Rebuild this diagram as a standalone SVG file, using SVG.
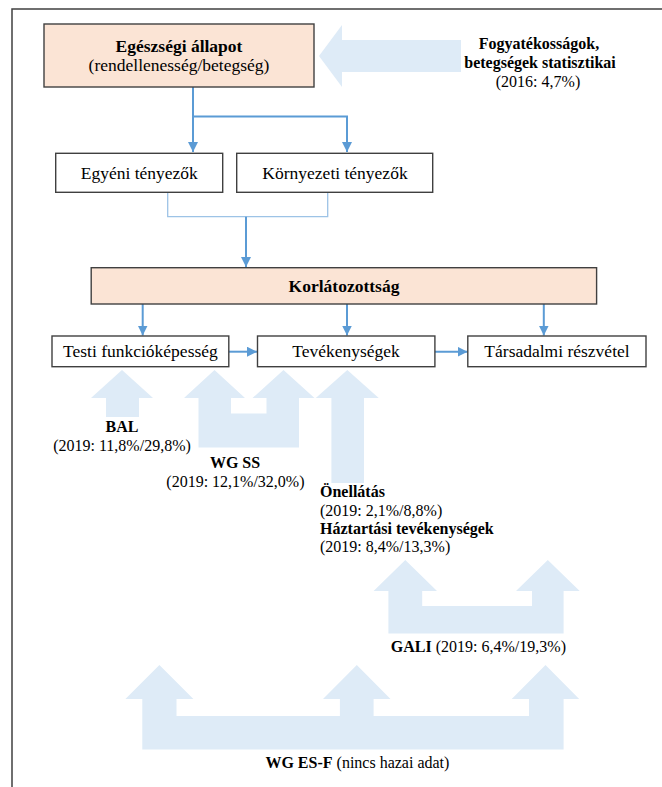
<svg xmlns="http://www.w3.org/2000/svg" width="662" height="787" viewBox="0 0 662 787">
<defs>
<style>
.frame{fill:none;stroke:#404040;stroke-width:1.5}
.box{fill:#ffffff;stroke:#404040;stroke-width:1.4}
.hl{fill:#FBE4D5;stroke:#404040;stroke-width:1.4}
.big{fill:#DEEBF7;stroke:none}
.t{font-family:"Liberation Serif","Times New Roman",serif;font-size:17.5px;fill:#000}
.a{font-family:"Liberation Serif","Times New Roman",serif;font-size:16px;fill:#000}
.b{font-weight:bold}
.c{text-anchor:middle}
.ln{fill:none;stroke:#5B9BD5;stroke-width:2}
.thin{fill:none;stroke:#9DC3E6;stroke-width:1.3}
</style>
<marker id="ah" markerUnits="userSpaceOnUse" markerWidth="10" markerHeight="10" refX="10" refY="5" orient="auto">
<path d="M0,0 L10,5 L0,10 z" fill="#5B9BD5"/>
</marker>
</defs>
<rect x="12" y="9" width="700" height="800" class="frame"/>

<g id="big-arrows">
<polygon class="big" points="319,56 342,25 342,40 461,40 461,72 342,72 342,87"/>
<polygon class="big" points="122,370 153,398 139,398 139,417 106,417 106,398 91,398"/>
<polygon class="big" points="214.5,370 245,398 231,398 231,413.5 266.5,413.5 266.5,398 252.5,398 283.5,370 314.5,398 299,398 299,447.5 198.5,447.5 198.5,398 184,398"/>
<polygon class="big" points="347.3,370 378.7,398 364,398 364,483 331.4,483 331.4,398 315.8,398"/>
<polygon class="big" points="405.3,560 437,591 422.2,591 422.2,606 532,606 532,591 516,591 547.8,560 579.7,591 563.6,591 563.6,633.5 388.4,633.5 388.4,591 373.6,591"/>
<polygon class="big" points="159.4,665 193.4,699 176.5,699 176.5,716 339.9,716 339.9,699 323,699 356.8,665 390.5,699 373.6,699 373.6,716 529,716 529,699 511.7,699 545.5,665 579.2,699 563.6,699 563.6,749.5 142.3,749.5 142.3,699 125.4,699"/>
</g>

<g id="connectors">
<path class="ln" d="M193,87 V152" marker-end="url(#ah)"/>
<path class="ln" d="M193,116.5 H347 V152" marker-end="url(#ah)"/>
<path class="thin" d="M167.7,193 V216.7 H327.7 V193"/>
<path class="ln" d="M246,216.7 V267" marker-end="url(#ah)"/>
<path class="ln" d="M142.7,304 V335.5" marker-end="url(#ah)"/>
<path class="ln" d="M347,304 V335.5" marker-end="url(#ah)"/>
<path class="ln" d="M543.8,304 V335.5" marker-end="url(#ah)"/>
<path class="ln" d="M229,351.7 H257" marker-end="url(#ah)"/>
<path class="ln" d="M435,351.7 H467.5" marker-end="url(#ah)"/>
</g>

<g id="egeszsegi-allapot">
<rect class="hl" x="44" y="24" width="270" height="63"/>
<text class="t b c" x="179" y="52.3">Egészségi állapot</text>
<text class="t c" x="179" y="71">(rendellenesség/betegség)</text>
</g>

<g id="fogyatekossagok">
<text class="a b c" x="539" y="49">Fogyatékosságok,</text>
<text class="a b c" x="540" y="67.7">betegségek statisztikai</text>
<text class="a c" x="538" y="86.7">(2016: 4,7%)</text>
</g>

<g id="egyeni-tenyezok">
<rect class="box" x="55.7" y="153.3" width="167" height="39"/>
<text class="t c" x="139.3" y="178.5">Egyéni tényezők</text>
</g>

<g id="kornyezeti-tenyezok">
<rect class="box" x="236.7" y="153.3" width="196" height="39"/>
<text class="t c" x="335" y="178.5">Környezeti tényezők</text>
</g>

<g id="korlatozottsag">
<rect class="hl" x="91.2" y="267.7" width="505.4" height="36.3"/>
<text class="t b c" x="344" y="291.7">Korlátozottság</text>
</g>

<g id="testi-funkcio">
<rect class="box" x="52" y="336" width="176.8" height="30.7"/>
<text class="t c" x="140.4" y="357">Testi funkcióképesség</text>
</g>

<g id="tevekenysegek">
<rect class="box" x="257.5" y="336" width="177.4" height="30.7"/>
<text class="t c" x="346" y="357">Tevékenységek</text>
</g>

<g id="tarsadalmi-reszvetel">
<rect class="box" x="467.8" y="336" width="178.2" height="30.7"/>
<text class="t c" x="557" y="357">Társadalmi részvétel</text>
</g>

<g id="bal">
<text class="a b c" x="122" y="431.7">BAL</text>
<text class="a c" x="122" y="450.5">(2019: 11,8%/29,8%)</text>
</g>

<g id="wg-ss">
<text class="a b c" x="235" y="468.3">WG SS</text>
<text class="a c" x="235.4" y="487.2">(2019: 12,1%/32,0%)</text>
</g>

<g id="onellatas">
<text class="a b" x="320" y="497.3">Önellátás</text>
<text class="a" x="320" y="515.7">(2019: 2,1%/8,8%)</text>
<text class="a b" x="320" y="534">Háztartási tevékenységek</text>
<text class="a" x="320" y="552.3">(2019: 8,4%/13,3%)</text>
</g>

<g id="gali">
<text class="a c" x="478.4" y="651.7"><tspan class="b">GALI</tspan> (2019: 6,4%/19,3%)</text>
</g>

<g id="wg-es-f">
<text class="a c" x="357.4" y="768"><tspan class="b">WG ES-F</tspan> (nincs hazai adat)</text>
</g>
</svg>
